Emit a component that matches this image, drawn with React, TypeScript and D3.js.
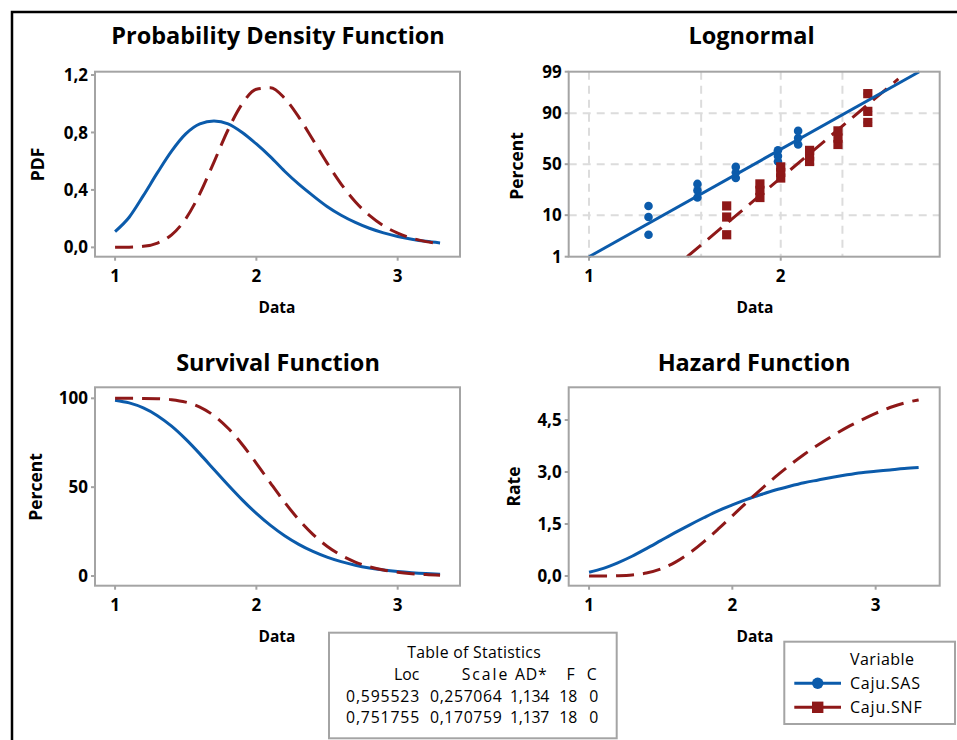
import React from 'react';
import * as d3 from 'd3';

// ---------- data ----------
const xGrid = [1.0, 1.1, 1.2, 1.3, 1.4, 1.5, 1.6, 1.7, 1.8, 1.9, 2.0, 2.1, 2.2, 2.3, 2.4, 2.5, 2.6, 2.7, 2.8, 2.9, 3.0, 3.1, 3.2, 3.3];
const pdfSAS = [0.11, 0.21, 0.36, 0.52, 0.67, 0.79, 0.86, 0.88, 0.86, 0.8, 0.72, 0.63, 0.53, 0.44, 0.36, 0.285, 0.224, 0.174, 0.133, 0.101, 0.076, 0.057, 0.042, 0.031];
const pdfSNF = [0.0, 0.001, 0.007, 0.03, 0.087, 0.199, 0.374, 0.594, 0.819, 1.0, 1.101, 1.111, 1.038, 0.907, 0.749, 0.588, 0.441, 0.318, 0.222, 0.15, 0.099, 0.064, 0.04, 0.025];
const survSAS = [98.97, 97.42, 94.6, 90.25, 84.32, 77.01, 68.73, 59.96, 51.2, 42.85, 35.21, 28.45, 22.64, 17.79, 13.81, 10.61, 8.07, 6.09, 4.56, 3.4, 2.52, 1.86, 1.36, 1.0];
const survSNF = [100.0, 99.99, 99.96, 99.79, 99.25, 97.87, 95.05, 90.23, 83.15, 74.01, 63.43, 52.29, 41.49, 31.73, 23.44, 16.76, 11.64, 7.87, 5.18, 3.34, 2.11, 1.31, 0.8, 0.48];
const hazSAS = [0.11, 0.22, 0.38, 0.57, 0.79, 1.02, 1.25, 1.47, 1.68, 1.88, 2.05, 2.21, 2.35, 2.48, 2.59, 2.69, 2.77, 2.85, 2.92, 2.98, 3.02, 3.06, 3.1, 3.13];
const hazSNF = [0.0, 0.001, 0.008, 0.03, 0.087, 0.204, 0.394, 0.659, 0.985, 1.351, 1.736, 2.124, 2.501, 2.859, 3.194, 3.505, 3.788, 4.045, 4.286, 4.497, 4.692, 4.86, 4.99, 5.08];

// probability plot
const plotPct = [3.8, 9.2, 14.7, 20.1, 25.5, 31.0, 36.4, 41.8, 47.3, 52.7, 58.2, 63.6, 69.0, 74.5, 79.9, 85.3, 90.8, 96.2];
const sasData = [1.24, 1.24, 1.24, 1.48, 1.48, 1.48, 1.7, 1.7, 1.7, 1.98, 1.98, 1.98, 2.13, 2.13, 2.13, 2.74, 2.74, 2.74];
const snfData = [1.645, 1.645, 1.645, 1.855, 1.855, 1.855, 2.0, 2.0, 2.0, 2.22, 2.22, 2.22, 2.46, 2.46, 2.46, 2.74, 2.74, 2.74];
const fitSAS = [[1.0, 1], [3.3, 99]];
const fitSNF = [[1.426, 1], [3.06, 98.4]];

const pdfTicks = [0, 0.4, 0.8, 1.2];
const survTicks = [0, 50, 100];
const hazTicks = [0, 1.5, 3.0, 4.5];
const probTicks = [1, 10, 50, 90, 99];
const probGridY = [10, 50, 90];
const probGridX = [1, 1.5, 2, 2.5];
const probXTicks = [1, 2];
const dataTicks = [1, 2, 3];

const statTitle = 'Table of Statistics';
const statHeader = ['Loc', 'Scale', 'AD*', 'F', 'C'];
const statRows = [
  ['0,595523', '0,257064', '1,134', '18', '0'],
  ['0,751755', '0,170759', '1,137', '18', '0'],
];
const seriesNames = ['Caju.SAS', 'Caju.SNF'];

// ---------- styles ----------
const FONT = "'Open Sans', 'Noto Sans', sans-serif";
const BLUE = '#0B5BAB';
const RED = '#8E1818';
const FRAME = '#a4a4a4';
const GRID = '#dcdcdc';
const DASH = '18 9';

const loc = d3.formatLocale({ decimal: ',', thousands: '.', grouping: [3], currency: ['', ''] });
const f1 = loc.format('.1f');
const f0 = loc.format('d');

// inverse standard normal (Acklam)
function normInv(p: number): number {
  const a = [-39.69683028665376, 220.9460984245205, -275.9285104469687, 138.357751867269, -30.66479806614716, 2.506628277459239];
  const b = [-54.47609879822406, 161.5858368580409, -155.6989798598866, 66.80131188771972, -13.28068155288572];
  const c = [-0.007784894002430293, -0.3223964580411365, -2.400758277161838, -2.549732539343734, 4.374664141464968, 2.938163982698783];
  const d = [0.007784695709041462, 0.3224671290700398, 2.445134137142996, 3.754408661907416];
  const pl = 0.02425;
  let q: number, r: number;
  if (p < pl) {
    q = Math.sqrt(-2 * Math.log(p));
    return (((((c[0] * q + c[1]) * q + c[2]) * q + c[3]) * q + c[4]) * q + c[5]) / ((((d[0] * q + d[1]) * q + d[2]) * q + d[3]) * q + 1);
  } else if (p <= 1 - pl) {
    q = p - 0.5;
    r = q * q;
    return ((((((a[0] * r + a[1]) * r + a[2]) * r + a[3]) * r + a[4]) * r + a[5]) * q) / (((((b[0] * r + b[1]) * r + b[2]) * r + b[3]) * r + b[4]) * r + 1);
  }
  q = Math.sqrt(-2 * Math.log(1 - p));
  return -(((((c[0] * q + c[1]) * q + c[2]) * q + c[3]) * q + c[4]) * q + c[5]) / ((((d[0] * q + d[1]) * q + d[2]) * q + d[3]) * q + 1);
}

type PanelProps = {
  left: number; right: number; top: number; bottom: number;
  xs: (v: number) => number; ys: (v: number) => number;
  xTicks: number[]; yTicks: number[]; yFmt: (v: number) => string;
  title: string; titleX: number; titleY: number;
  yLabel: string; yLabelX: number; yLabelY: number;
  tickLabelY: number; xLabelX: number; xLabelY: number;
  children?: React.ReactNode; grid?: React.ReactNode;
};

function Panel(p: PanelProps) {
  return (
    <g>
      <text x={p.titleX} y={p.titleY} textAnchor="middle" fontFamily={FONT} fontWeight={700} fontSize={23.5} fill="#000">{p.title}</text>
      <rect x={p.left} y={p.top} width={p.right - p.left} height={p.bottom - p.top} fill="#fff" />
      {p.grid}
      {p.yTicks.map((t) => (
        <g key={'y' + t}>
          <line x1={p.left - 4} x2={p.left} y1={p.ys(t)} y2={p.ys(t)} stroke={FRAME} strokeWidth={2} />
          <text x={p.left - 7} y={p.ys(t)} dy="0.36em" textAnchor="end" fontFamily={FONT} fontWeight={700} fontSize={17} fill="#000">{p.yFmt(t)}</text>
        </g>
      ))}
      {p.xTicks.map((t) => (
        <g key={'x' + t}>
          <line x1={p.xs(t)} x2={p.xs(t)} y1={p.bottom} y2={p.bottom + 4} stroke={FRAME} strokeWidth={2} />
          <text x={p.xs(t)} y={p.tickLabelY} textAnchor="middle" fontFamily={FONT} fontWeight={700} fontSize={17} fill="#000">{String(t)}</text>
        </g>
      ))}
      {p.children}
      <rect x={p.left} y={p.top} width={p.right - p.left} height={p.bottom - p.top} fill="none" stroke={FRAME} strokeWidth={2} />
      <text x={p.xLabelX} y={p.xLabelY} textAnchor="middle" fontFamily={FONT} fontWeight={700} fontSize={15.5} fill="#000">Data</text>
      <text transform={`translate(${p.yLabelX},${p.yLabelY}) rotate(-90)`} textAnchor="middle" fontFamily={FONT} fontWeight={700} fontSize={17.5} fill="#000">{p.yLabel}</text>
    </g>
  );
}

export default function App() {
  // PDF panel
  const pdfX = d3.scaleLinear().domain([0.858, 3.441]).range([95, 460]);
  const pdfY = d3.scaleLinear().domain([-0.065, 1.223]).range([256.7, 71.7]);
  // survival panel
  const svX = d3.scaleLinear().domain([0.858, 3.441]).range([95, 460]);
  const svY = d3.scaleLinear().domain([-5.46, 106.2]).range([585.7, 387.3]);
  // hazard panel
  const hzX = d3.scaleLinear().domain([0.858, 3.447]).range([568.7, 939.7]);
  const hzY = d3.scaleLinear().domain([-0.279, 5.443]).range([585.7, 387.3]);
  // probability plot
  const prX = d3.scaleLog().domain([0.9292, 3.5535]).range([568.7, 939.7]);
  const prZ = d3.scaleLinear().domain([normInv(0.01), normInv(0.99)]).range([256.7, 71.7]);
  const prY = (pct: number) => prZ(normInv(pct / 100));

  const mk = (xs: (v: number) => number, ys: (v: number) => number, vals: number[]) =>
    d3.line<number>().x((_, i) => xs(xGrid[i])).y((v) => ys(v)).curve(d3.curveMonotoneX)(vals) || '';
  const fitLine = (pts: number[][]) => d3.line<number[]>().x((d) => prX(d[0])).y((d) => prY(d[1]))(pts) || '';

  const curvePair = (xs: any, ys: any, a: number[], b: number[]) => (
    <g fill="none" strokeWidth={3}>
      <path d={mk(xs, ys, a)} stroke={BLUE} />
      <path d={mk(xs, ys, b)} stroke={RED} strokeDasharray={DASH} />
    </g>
  );

  const probGrid = (
    <g stroke={GRID} strokeWidth={2} strokeDasharray="8 6">
      {probGridY.map((t) => <line key={'gy' + t} x1={568.7} x2={939.7} y1={prY(t)} y2={prY(t)} />)}
      {probGridX.map((t) => <line key={'gx' + t} x1={prX(t)} x2={prX(t)} y1={71.7} y2={256.7} />)}
    </g>
  );

  // table layout (start x and width of each column)
  const headStart = [394, 461.7, 515, 566.5, 586.7];
  const headWidth = [25.3, 45.6, 31.7, 0, 0];
  const cellStart = [346, 430, 510, 559.3, 589.3];
  const cellWidth = [73.3, 71.7, 39.3, 0, 0];

  const cell = (s: string, x: number, y: number, w: number, key: string) => (
    <text key={key} x={x} y={y} {...(w > 0 ? { textLength: w, lengthAdjust: 'spacing' } : {})}>{s}</text>
  );

  return (
    <svg width={957} height={740} style={{ position: 'absolute', left: 0, top: 0, display: 'block', background: '#fff' }}>
      <rect x={0} y={0} width={957} height={740} fill="#fff" />
      <path d="M12,740 V12 H957" fill="none" stroke="#000" strokeWidth={2.5} />

      <Panel left={95} right={460} top={71.7} bottom={256.7} xs={pdfX} ys={pdfY}
        xTicks={dataTicks} yTicks={pdfTicks} yFmt={f1}
        title="Probability Density Function" titleX={278} titleY={43.5}
        yLabel="PDF" yLabelX={44} yLabelY={164.5} tickLabelY={282} xLabelX={277} xLabelY={312.5}>
        {curvePair(pdfX, pdfY, pdfSAS, pdfSNF)}
      </Panel>

      <Panel left={568.7} right={939.7} top={71.7} bottom={256.7} xs={prX} ys={prY}
        xTicks={probXTicks} yTicks={probTicks} yFmt={f0}
        title="Lognormal" titleX={751.5} titleY={43.5}
        yLabel="Percent" yLabelX={523} yLabelY={166} tickLabelY={282} xLabelX={755} xLabelY={312.5}
        grid={probGrid}>
        <g>
          {sasData.map((v, i) => <circle key={'s' + i} cx={prX(v)} cy={prY(plotPct[i])} r={4.3} fill={BLUE} />)}
          {snfData.map((v, i) => <rect key={'n' + i} x={prX(v) - 4.6} y={prY(plotPct[i]) - 4.6} width={9.2} height={9.2} fill={RED} />)}
          <path d={fitLine(fitSNF)} stroke={RED} strokeWidth={3} strokeDasharray={DASH} fill="none" />
          <path d={fitLine(fitSAS)} stroke={BLUE} strokeWidth={3} fill="none" />
        </g>
      </Panel>

      <Panel left={95} right={460} top={387.3} bottom={585.7} xs={svX} ys={svY}
        xTicks={dataTicks} yTicks={survTicks} yFmt={f0}
        title="Survival Function" titleX={278} titleY={370.5}
        yLabel="Percent" yLabelX={41.5} yLabelY={487} tickLabelY={610.5} xLabelX={277} xLabelY={641.5}>
        {curvePair(svX, svY, survSAS, survSNF)}
      </Panel>

      <Panel left={568.7} right={939.7} top={387.3} bottom={585.7} xs={hzX} ys={hzY}
        xTicks={dataTicks} yTicks={hazTicks} yFmt={f1}
        title="Hazard Function" titleX={754} titleY={370.5}
        yLabel="Rate" yLabelX={519.5} yLabelY={486.5} tickLabelY={610.5} xLabelX={755} xLabelY={641.5}>
        {curvePair(hzX, hzY, hazSAS, hazSNF)}
      </Panel>

      {/* Table of statistics */}
      <g fontFamily={FONT} fontSize={15.8} fill="#000">
        <rect x={329} y={632.7} width={287.7} height={105.6} fill="#fff" stroke={FRAME} strokeWidth={2} />
        {cell(statTitle, 407.3, 658, 133.4, 'title')}
        {statHeader.map((h, j) => cell(h, headStart[j], 680, headWidth[j], 'h' + j))}
        {statRows.map((row, i) => row.map((c, j) => cell(c, cellStart[j], 701.7 + i * 21.6, cellWidth[j], 'r' + i + j)))}
      </g>

      {/* Legend */}
      <g fontFamily={FONT} fontSize={16} fill="#000">
        <rect x={784.3} y={641.7} width={170.7} height={82.3} fill="#fff" stroke={FRAME} strokeWidth={2} />
        <text x={850} y={665} textLength={64} lengthAdjust="spacing">Variable</text>
        <line x1={794.3} x2={841} y1={683.3} y2={683.3} stroke={BLUE} strokeWidth={3} />
        <circle cx={817.7} cy={683.3} r={5.7} fill={BLUE} />
        <text x={850} y={688.5} textLength={70} lengthAdjust="spacing">{seriesNames[0]}</text>
        <line x1={794.3} x2={841} y1={707.3} y2={707.3} stroke={RED} strokeWidth={3} />
        <rect x={812} y={701.6} width={11.4} height={11.4} fill={RED} />
        <text x={850} y={712.5} textLength={71.7} lengthAdjust="spacing">{seriesNames[1]}</text>
      </g>
    </svg>
  );
}
